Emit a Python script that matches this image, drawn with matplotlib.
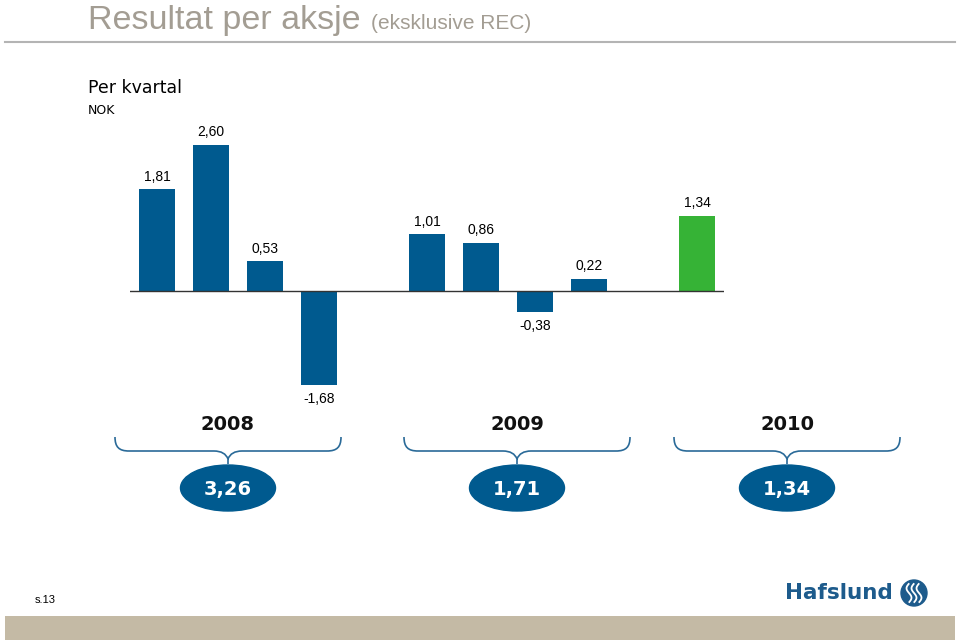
import matplotlib.pyplot as plt
import numpy as np
from matplotlib.patches import Ellipse, Circle, PathPatch, Rectangle
from matplotlib.path import Path

# data
quarters = ['Q1 08', 'Q2 08', 'Q3 08', 'Q4 08', '', 'Q1 09', 'Q2 09', 'Q3 09', 'Q4 09', '', 'Q1 10']
eps = [1.81, 2.60, 0.53, -1.68, None, 1.01, 0.86, -0.38, 0.22, None, 1.34]
years = ['2008', '2009', '2010']
year_totals = [3.26, 1.71, 1.34]
year_centers = [228, 517, 787]   # pixel x of the year groups

blue = '#005a8f'
green = '#36b336'

fig = plt.figure(figsize=(9.6, 6.4), dpi=100)

# overlay in pixel coords for decorations
ov = fig.add_axes([0, 0, 1, 1])
ov.set_xlim(0, 960)
ov.set_ylim(640, 0)
ov.axis('off')

ov.text(88, 29, 'Resultat per aksje', fontsize=24.5, color='#a39d93',
        family='Liberation Sans', va='baseline', ha='left')
ov.text(371, 29, '(eksklusive REC)', fontsize=15, color='#a39d93',
        family='Liberation Sans', va='baseline', ha='left')
ov.plot([5, 955], [42, 42], color='#b4b4b4', lw=1.5)

ov.text(88, 88, 'Per kvartal', fontsize=12.5, family='DejaVu Sans', va='center')
ov.text(88, 110, 'NOK', fontsize=9, family='DejaVu Sans', va='center')

def brace(cx, half):
    l, r = cx - half, cx + half
    top, mid, tip = 437, 451, 464
    verts = [(l, top), (l, mid), (l + 10, mid), (l + 14, mid),
             (cx - 14, mid), (cx - 3, mid), (cx, tip - 5), (cx, tip),
             (cx, tip - 5), (cx + 3, mid), (cx + 14, mid),
             (r - 14, mid), (r - 10, mid), (r, mid), (r, top)]
    codes = [Path.MOVETO, Path.CURVE4, Path.CURVE4, Path.CURVE4,
             Path.LINETO, Path.CURVE3, Path.CURVE3, Path.LINETO,
             Path.MOVETO, Path.CURVE3, Path.CURVE3,
             Path.LINETO, Path.CURVE4, Path.CURVE4, Path.CURVE4]
    verts[1] = (l, mid - 4)
    verts[2] = (l + 4, mid)
    verts[12] = (r - 4, mid)
    verts[13] = (r, mid - 4)
    ov.add_patch(PathPatch(Path(verts, codes), fill=False, ec='#2a6a98', lw=1.2))

for yr, tot, cx in zip(years, year_totals, year_centers):
    ov.text(cx, 424, yr, fontsize=14, fontweight='bold', family='DejaVu Sans',
            ha='center', va='center', color='#111111')
    brace(cx, 113)
    ov.add_patch(Ellipse((cx, 488), 95, 46, color=blue))
    ov.text(cx, 489, f'{tot:.2f}'.replace('.', ','), fontsize=14, fontweight='bold',
            family='DejaVu Sans', color='white', ha='center', va='center')

# footer
ov.add_patch(Rectangle((5, 616), 950, 24, color='#c4baa5', lw=0))
ov.text(35, 600, 's.13', fontsize=8, family='Liberation Sans', va='center')
ov.text(785, 593, 'Hafslund', fontsize=15.5, fontweight='bold', family='DejaVu Sans',
        color='#1d5b8c', va='center', ha='left')
ov.add_patch(Circle((914, 593), 13, color='#1d5b8c'))
for dx in (-5, 0, 5):
    t = np.linspace(-1, 1, 20)
    ov.plot(914 + dx + 2.5 * np.sin(t * 3), 593 + 9 * t, color='white', lw=1.3)

# bar chart
ax = fig.add_axes([130 / 960, 240 / 640, 594 / 960, 270 / 640])
x = np.arange(len(quarters))
for xi, v in zip(x, eps):
    if v is None:
        continue
    c = green if xi == len(quarters) - 1 else blue
    ax.bar(xi, v, width=0.66, color=c)
    lab = f'{v:.2f}'.replace('.', ',')
    if v >= 0:
        ax.annotate(lab, (xi, v), xytext=(0, 4), textcoords='offset points',
                    ha='center', va='bottom', fontsize=10, family='Liberation Sans')
    else:
        ax.annotate(lab, (xi, v), xytext=(0, -5), textcoords='offset points',
                    ha='center', va='top', fontsize=10, family='Liberation Sans')
ax.axhline(0, color='#333333', lw=1)
ax.set_xlim(-0.5, 10.5)
ax.set_ylim(-1.94, 2.865)
ax.axis('off')

fig.savefig('out.png', dpi=100)
